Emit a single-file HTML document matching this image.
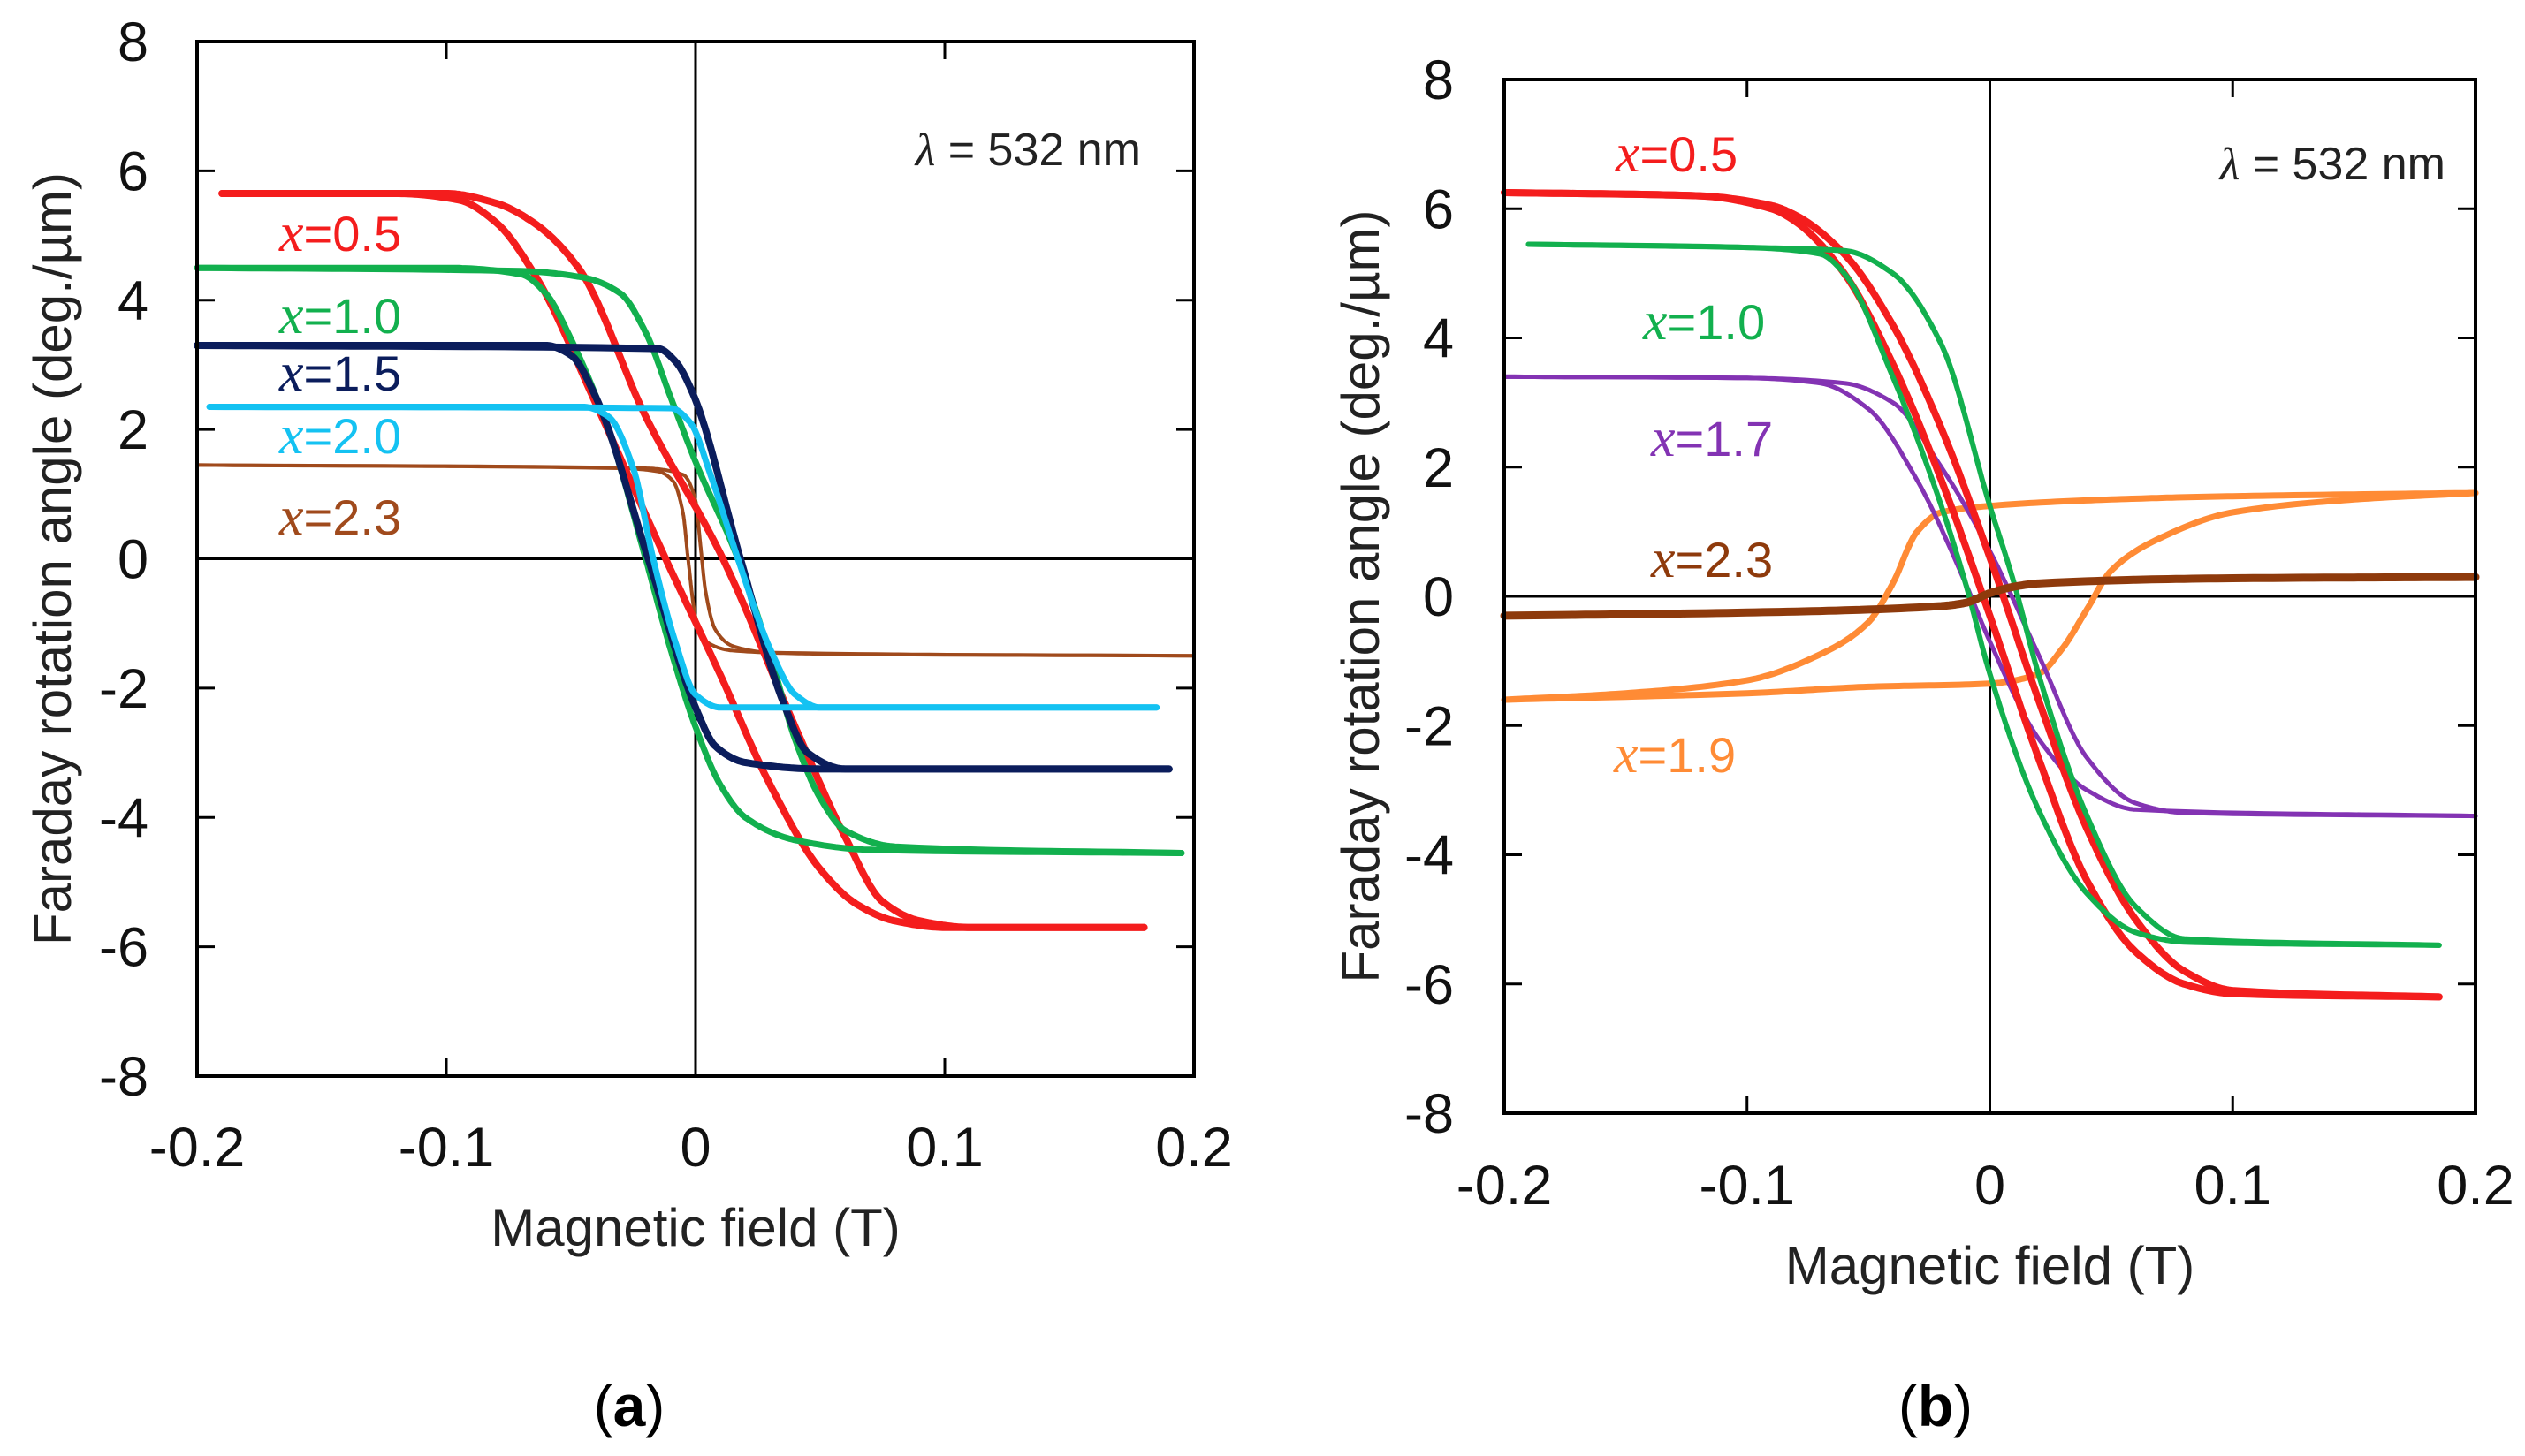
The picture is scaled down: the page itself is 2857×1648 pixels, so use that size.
<!DOCTYPE html>
<html><head><meta charset="utf-8"><style>
html,body{margin:0;padding:0;background:#fff;}
svg{display:block;}
text{font-family:"Liberation Sans",sans-serif;}
</style></head><body>
<svg id="fig" width="2857" height="1648" viewBox="0 0 2857 1648" xmlns="http://www.w3.org/2000/svg"></svg>
<script>
// ---------- data: panel (a) ----------
const xTicks = [-0.2, -0.1, 0, 0.1, 0.2];
const xTickLabels = ["-0.2", "-0.1", "0", "0.1", "0.2"];
const yTicks = [8, 6, 4, 2, 0, -2, -4, -6, -8];
const yTickLabels = ["8", "6", "4", "2", "0", "-2", "-4", "-6", "-8"];

const a05_A_x = [-0.19,-0.12,-0.095,-0.08,-0.064,-0.04,-0.012,0.01,0.03,0.05,0.065,0.08,0.1,0.18];
const a05_A_y = [5.65,5.65,5.55,5.2,4.36,2.4,0,-1.8,-3.5,-4.8,-5.35,-5.6,-5.7,-5.7];
const a05_B_x = [-0.19,-0.1,-0.08,-0.065,-0.047,-0.02,0.011,0.04,0.06,0.075,0.09,0.11,0.18];
const a05_B_y = [5.65,5.65,5.5,5.2,4.5,2.2,0,-2.6,-4.3,-5.3,-5.6,-5.7,-5.7];
const a10_A_x = [-0.2,-0.1,-0.07,-0.06,-0.05,-0.035,-0.02,-0.01,0,0.01,0.02,0.04,0.07,0.195];
const a10_A_y = [4.5,4.5,4.4,4.1,3.4,2.0,0,-1.4,-2.6,-3.5,-4.0,-4.35,-4.5,-4.55];
const a10_B_x = [-0.2,-0.07,-0.045,-0.03,-0.02,-0.01,0,0.017,0.03,0.04,0.05,0.06,0.08,0.195];
const a10_B_y = [4.5,4.45,4.35,4.1,3.5,2.5,1.5,0,-1.5,-2.8,-3.7,-4.2,-4.45,-4.55];
const a15_A_x = [-0.2,-0.06,-0.05,-0.04,-0.019,0,0.008,0.02,0.05,0.19];
const a15_A_y = [3.3,3.3,3.15,2.5,0,-2.3,-2.9,-3.15,-3.25,-3.25];
const a15_B_x = [-0.2,-0.015,-0.008,-0.001,0.018,0.035,0.045,0.06,0.19];
const a15_B_y = [3.3,3.25,3.05,2.55,0,-2.2,-3.0,-3.25,-3.25];
const a20_A_x = [-0.195,-0.045,-0.035,-0.025,-0.017,-0.008,0,0.01,0.185];
const a20_A_y = [2.35,2.35,2.2,1.4,0,-1.3,-2.1,-2.3,-2.3];
const a20_B_x = [-0.195,-0.01,-0.002,0.006,0.017,0.03,0.04,0.05,0.185];
const a20_B_y = [2.35,2.33,2.1,1.3,0,-1.4,-2.1,-2.3,-2.3];
const a23_A_x = [-0.2,-0.03,-0.015,-0.009,-0.005,-0.003,0,0.005,0.015,0.05,0.2];
const a23_A_y = [1.45,1.4,1.35,1.2,0.7,0,-0.9,-1.3,-1.42,-1.47,-1.5];
const a23_B_x = [-0.2,-0.02,-0.005,0,0.002,0.004,0.008,0.015,0.03,0.2];
const a23_B_y = [1.45,1.4,1.3,0.9,0.2,-0.5,-1.1,-1.35,-1.45,-1.5];

// ---------- data: panel (b) ----------
const b05_A_x = [-0.2,-0.12,-0.09,-0.08,-0.06,-0.04,-0.02,0,0.02,0.04,0.06,0.08,0.1,0.185];
const b05_A_y = [6.25,6.2,6.0,5.8,5.0,3.6,1.8,-0.3,-2.5,-4.4,-5.5,-6.0,-6.15,-6.2];
const b05_B_x = [-0.2,-0.12,-0.09,-0.08,-0.06,-0.04,-0.02,0,0.02,0.04,0.06,0.08,0.1,0.185];
const b05_B_y = [6.25,6.2,6.05,5.9,5.3,4.2,2.6,0.6,-1.6,-3.6,-5.0,-5.8,-6.1,-6.2];
const b10_A_x = [-0.19,-0.1,-0.07,-0.06,-0.04,-0.02,-0.01,0,0.02,0.04,0.06,0.08,0.185];
const b10_A_y = [5.45,5.4,5.3,5.0,3.4,1.4,0.2,-1.2,-3.3,-4.6,-5.2,-5.35,-5.4];
const b10_B_x = [-0.19,-0.1,-0.06,-0.04,-0.02,0,0.01,0.02,0.04,0.06,0.08,0.185];
const b10_B_y = [5.45,5.4,5.35,5.0,3.9,1.4,0.2,-1.2,-3.4,-4.8,-5.3,-5.4];
const b17_A_x = [-0.2,-0.1,-0.07,-0.05,-0.03,-0.01,0,0.02,0.04,0.06,0.2];
const b17_A_y = [3.4,3.38,3.3,2.9,1.8,0.2,-0.7,-2.2,-3.0,-3.3,-3.4];
const b17_B_x = [-0.2,-0.1,-0.06,-0.04,-0.02,0,0.02,0.04,0.06,0.08,0.2];
const b17_B_y = [3.4,3.38,3.3,3.0,2.0,0.7,-0.9,-2.5,-3.2,-3.35,-3.4];
const b19_A_x = [-0.2,-0.15,-0.1,-0.07,-0.05,-0.04,-0.03,-0.02,0,0.05,0.1,0.2];
const b19_A_y = [-1.6,-1.5,-1.3,-0.9,-0.4,0.2,1.0,1.3,1.4,1.5,1.55,1.6];
const b19_B_x = [-0.2,-0.1,-0.05,0,0.02,0.03,0.04,0.05,0.07,0.1,0.15,0.2];
const b19_B_y = [-1.6,-1.5,-1.4,-1.35,-1.2,-0.8,-0.2,0.4,0.9,1.3,1.5,1.6];
const b23_x = [-0.2,-0.1,-0.02,-0.01,0,0.01,0.02,0.1,0.2];
const b23_y = [-0.3,-0.25,-0.15,-0.1,0.05,0.15,0.2,0.28,0.3];

const NS = "http://www.w3.org/2000/svg";
const svg = document.getElementById('fig');
function mk(tag, attrs, parent) {
  const e = document.createElementNS(NS, tag);
  for (const k in attrs) e.setAttribute(k, attrs[k]);
  (parent || svg).appendChild(e);
  return e;
}
// monotone cubic (Fritsch-Carlson) interpolation, sampled densely
function monoPath(xs, ys, sx, sy) {
  const n = xs.length;
  const d = [], m = [];
  for (let i = 0; i < n - 1; i++) d.push((ys[i + 1] - ys[i]) / (xs[i + 1] - xs[i]));
  m[0] = d[0]; m[n - 1] = d[n - 2];
  for (let i = 1; i < n - 1; i++) {
    if (d[i - 1] * d[i] <= 0) m[i] = 0;
    else {
      const h0 = xs[i] - xs[i - 1], h1 = xs[i + 1] - xs[i];
      const w1 = 2 * h1 + h0, w2 = h1 + 2 * h0;
      m[i] = (w1 + w2) / (w1 / d[i - 1] + w2 / d[i]);
    }
  }
  let path = "M" + sx(xs[0]).toFixed(1) + "," + sy(ys[0]).toFixed(1);
  for (let i = 0; i < n - 1; i++) {
    const h = xs[i + 1] - xs[i];
    const steps = 24;
    for (let k = 1; k <= steps; k++) {
      const t = k / steps;
      const h00 = 2*t*t*t - 3*t*t + 1, h10 = t*t*t - 2*t*t + t, h01 = -2*t*t*t + 3*t*t, h11 = t*t*t - t*t;
      const y = h00 * ys[i] + h10 * h * m[i] + h01 * ys[i + 1] + h11 * h * m[i + 1];
      const x = xs[i] + t * h;
      path += " L" + sx(x).toFixed(1) + "," + sy(y).toFixed(1);
    }
  }
  return path;
}

function panel(cfg) {
  const g = mk('g', {});
  
  
  const sx = v => cfg.L + (v - (-0.2)) / 0.4 * (cfg.R - cfg.L);
  const sy = v => cfg.B - (v - (-8)) / 16 * (cfg.B - cfg.T);
  const zx = mk('line', {x1: sx(0), x2: sx(0), y1: cfg.T, y2: cfg.B, stroke: '#000', 'stroke-width': 3}, g);
  
  
  const zy = mk('line', {x1: cfg.L, x2: cfg.R, y1: sy(0), y2: sy(0), stroke: '#000', 'stroke-width': 3}, g);
  
  
  cfg.series.forEach(s => {
    const p = mk('path', {d: monoPath(s.x, s.y, sx, sy), fill: 'none', stroke: s.color, 'stroke-width': s.w, 'stroke-linecap': 'round', 'stroke-linejoin': 'round'}, g);
    
    
  });
  const fr = mk('rect', {x: cfg.L, y: cfg.T, width: cfg.R - cfg.L, height: cfg.B - cfg.T, fill: 'none', stroke: '#000', 'stroke-width': 4}, g);
  
  
  xTicks.forEach((v, i) => {
    const X = sx(v);
    const t1 = mk('line', {x1: X, x2: X, y1: cfg.B, y2: cfg.B - 20, stroke: '#000', 'stroke-width': 3}, g);
    
    
    const t2 = mk('line', {x1: X, x2: X, y1: cfg.T, y2: cfg.T + 20, stroke: '#000', 'stroke-width': 3}, g);
    
    
    const tl = mk('text', {x: X, y: cfg.xLabelY, 'text-anchor': 'middle', 'font-size': 63, fill: '#111'}, g);
    tl.textContent = xTickLabels[i];
    
    
  });
  yTicks.forEach((v, i) => {
    const Y = sy(v);
    const t1 = mk('line', {x1: cfg.L, x2: cfg.L + 20, y1: Y, y2: Y, stroke: '#000', 'stroke-width': 3}, g);
    
    
    const t2 = mk('line', {x1: cfg.R, x2: cfg.R - 20, y1: Y, y2: Y, stroke: '#000', 'stroke-width': 3}, g);
    
    
    const tl = mk('text', {x: cfg.yLabelX, y: Y + 22, 'text-anchor': 'end', 'font-size': 63, fill: '#111'}, g);
    tl.textContent = yTickLabels[i];
    
    
  });
  const xt = mk('text', {x: (cfg.L + cfg.R) / 2, y: cfg.xTitleY, 'text-anchor': 'middle', 'font-size': 60, fill: '#222'}, g);
  xt.textContent = 'Magnetic field (T)';
  
  
  const ycy = (cfg.T + cfg.B) / 2;
  const yt = mk('text', {x: cfg.yTitleX, y: ycy, 'text-anchor': 'middle', 'font-size': 60, fill: '#222', transform: 'rotate(-90 ' + cfg.yTitleX + ' ' + ycy + ')'}, g);
  yt.textContent = 'Faraday rotation angle (deg./µm)';
  
  
  const lt = mk('text', {x: cfg.lamX, y: cfg.lamY, 'text-anchor': 'end', 'font-size': 52, fill: '#222'}, g);
  lt.innerHTML = '<tspan font-style="italic" font-family="Liberation Serif">λ</tspan> = 532 nm';
  
  
  cfg.labels.forEach(l => {
    const t = mk('text', {x: l.x, y: l.y + 20, 'font-size': 56, fill: l.color}, g);
    t.innerHTML = '<tspan font-style="italic" font-family="Liberation Serif" font-size="62">x</tspan>=' + l.t;
    
    
  });
  const pl = mk('text', {x: cfg.letterX, y: 1614, 'text-anchor': 'middle', 'font-size': 66, 'font-family': 'Liberation Serif', fill: '#000'}, g);
  pl.innerHTML = '(<tspan font-weight="bold">' + cfg.letter + '</tspan>)';
  
  
}

const RED = '#f41d1d', GRN = '#12b04e', NAVY = '#0b1d5c', CYAN = '#14c2f2', BRNA = '#a04a1c', PUR = '#8333b3', ORA = '#ff8b35', BRNB = '#8e3a0c';

panel({name: 'panel-a', L: 223, R: 1351, T: 47, B: 1218, xLabelY: 1320, yLabelX: 168, xTitleY: 1410, yTitleX: 80, lamX: 1291, lamY: 187, letter: 'a', letterX: 712,
  series: [
    {name: 'series-x2.3-branch-a', x: a23_A_x, y: a23_A_y, color: BRNA, w: 4},
    {name: 'series-x2.3-branch-b', x: a23_B_x, y: a23_B_y, color: BRNA, w: 4},
    {name: 'series-x0.5-branch-a', x: a05_A_x, y: a05_A_y, color: RED, w: 8},
    {name: 'series-x0.5-branch-b', x: a05_B_x, y: a05_B_y, color: RED, w: 8},
    {name: 'series-x1.0-branch-a', x: a10_A_x, y: a10_A_y, color: GRN, w: 7},
    {name: 'series-x1.0-branch-b', x: a10_B_x, y: a10_B_y, color: GRN, w: 7},
    {name: 'series-x1.5-branch-a', x: a15_A_x, y: a15_A_y, color: NAVY, w: 8},
    {name: 'series-x1.5-branch-b', x: a15_B_x, y: a15_B_y, color: NAVY, w: 8},
    {name: 'series-x2.0-branch-a', x: a20_A_x, y: a20_A_y, color: CYAN, w: 7},
    {name: 'series-x2.0-branch-b', x: a20_B_x, y: a20_B_y, color: CYAN, w: 7}
  ],
  labels: [
    {x: 316, y: 264, t: '0.5', color: RED},
    {x: 316, y: 357, t: '1.0', color: GRN},
    {x: 316, y: 422, t: '1.5', color: NAVY},
    {x: 316, y: 493, t: '2.0', color: CYAN},
    {x: 316, y: 585, t: '2.3', color: BRNA}
  ]
});

panel({name: 'panel-b', L: 1702, R: 2801, T: 90, B: 1260, xLabelY: 1363, yLabelX: 1645, xTitleY: 1453, yTitleX: 1560, lamX: 2767, lamY: 203, letter: 'b', letterX: 2190,
  series: [
    {name: 'series-x1.9-branch-a', x: b19_A_x, y: b19_A_y, color: ORA, w: 7},
    {name: 'series-x1.9-branch-b', x: b19_B_x, y: b19_B_y, color: ORA, w: 7},
    {name: 'series-x1.7-branch-a', x: b17_A_x, y: b17_A_y, color: PUR, w: 5},
    {name: 'series-x1.7-branch-b', x: b17_B_x, y: b17_B_y, color: PUR, w: 5},
    {name: 'series-x0.5-branch-a', x: b05_A_x, y: b05_A_y, color: RED, w: 8},
    {name: 'series-x0.5-branch-b', x: b05_B_x, y: b05_B_y, color: RED, w: 8},
    {name: 'series-x1.0-branch-a', x: b10_A_x, y: b10_A_y, color: GRN, w: 6},
    {name: 'series-x1.0-branch-b', x: b10_B_x, y: b10_B_y, color: GRN, w: 6},
    {name: 'series-x2.3', x: b23_x, y: b23_y, color: BRNB, w: 9}
  ],
  labels: [
    {x: 1828, y: 174, t: '0.5', color: RED},
    {x: 1859, y: 364, t: '1.0', color: GRN},
    {x: 1868, y: 496, t: '1.7', color: PUR},
    {x: 1868, y: 633, t: '2.3', color: BRNB},
    {x: 1826, y: 854, t: '1.9', color: ORA}
  ]
});
</script>
</body></html>
